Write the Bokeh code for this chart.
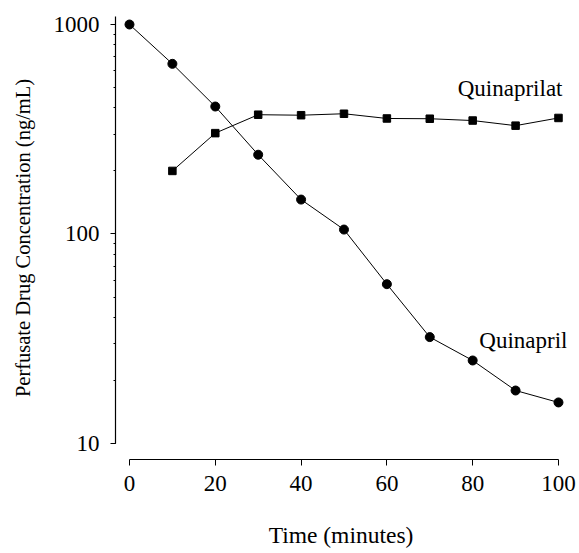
from bokeh.plotting import figure
from bokeh.models import Range1d, LogTicker, NumeralTickFormatter, FixedTicker
from bokeh.embed import file_html
from bokeh.resources import INLINE
from bokeh.core.properties import value

# ---- data ----
time_quinapril = [0, 10, 20, 30, 40, 50, 60, 70, 80, 90, 100]
quinapril = [1000, 649, 406, 239, 146, 105, 57.6, 32.2, 24.9, 17.9, 15.7]

time_quinaprilat = [10, 20, 30, 40, 50, 60, 70, 80, 90, 100]
quinaprilat = [200, 303, 371, 369, 375, 356, 355, 348, 329, 358]

x_ticks = [0, 20, 40, 60, 80, 100]
series_names = ["Quinapril", "Quinaprilat"]

FONT = "Liberation Serif"

p = figure(
    width=579, height=553,
    x_range=Range1d(-3.26, 101.87),
    y_range=Range1d(8.386, 1092),
    y_axis_type="log",
    output_backend="svg",
    toolbar_location=None,
    min_border_left=115, min_border_right=13,
    min_border_top=16, min_border_bottom=94,
)
p.outline_line_color = None
p.grid.visible = False
p.background_fill_color = "white"
p.border_fill_color = "white"

# x axis
xa = p.xaxis[0]
xa.bounds = (0, 100)
xa.ticker = FixedTicker(ticks=x_ticks)
xa.axis_line_color = "black"
xa.axis_line_width = 1.2
xa.major_tick_in = 0
xa.major_tick_out = 6
xa.major_tick_line_color = "black"
xa.minor_tick_line_color = None
xa.major_label_text_font = FONT
xa.major_label_text_font_size = "23px"
xa.major_label_text_color = "black"
xa.major_label_standoff = 10
xa.axis_label = "Time (minutes)"
xa.axis_label_text_font = FONT
xa.axis_label_text_font_size = "23.5px"
xa.axis_label_text_font_style = "normal"
xa.axis_label_text_color = "black"
xa.axis_label_standoff = 28

# y axis
ya = p.yaxis[0]
ya.bounds = (10, 1092)
ya.ticker = LogTicker(num_minor_ticks=10)
ya.formatter = NumeralTickFormatter(format="0")
ya.axis_line_color = "black"
ya.axis_line_width = 1.2
ya.major_tick_in = 0
ya.major_tick_out = 5
ya.minor_tick_in = 0
ya.minor_tick_out = 2
ya.major_tick_line_color = "black"
ya.minor_tick_line_color = "black"
ya.major_label_text_font = FONT
ya.major_label_text_font_size = "23px"
ya.major_label_text_color = "black"
ya.major_label_standoff = 11
ya.axis_label = "Perfusate Drug Concentration (ng/mL)"
ya.axis_label_text_font = FONT
ya.axis_label_text_font_size = "20.5px"
ya.axis_label_text_font_style = "normal"
ya.axis_label_text_color = "black"
ya.axis_label_standoff = 17

# Quinapril (circles)
p.line(time_quinapril, quinapril, line_color="black", line_width=1)
p.scatter(time_quinapril, quinapril, marker="circle", size=9,
          fill_color="black", line_color="black")

# Quinaprilat (squares)
p.line(time_quinaprilat, quinaprilat, line_color="black", line_width=1)
p.scatter(time_quinaprilat, quinaprilat, marker="square", size=7.5,
          fill_color="black", line_color="black")

# series labels anchored at each series' last point
p.text(x=[time_quinaprilat[-1]], y=[quinaprilat[-1]], text=[series_names[1]],
       x_offset=4, y_offset=-29, text_align="right", text_baseline="alphabetic",
       text_font=value(FONT), text_font_size="23px", text_color="black")
p.text(x=[time_quinapril[-1]], y=[quinapril[-1]], text=[series_names[0]],
       x_offset=9, y_offset=-62, text_align="right", text_baseline="alphabetic",
       text_font=value(FONT), text_font_size="23px", text_color="black")

open("out.html", "w").write(file_html(p, INLINE))
